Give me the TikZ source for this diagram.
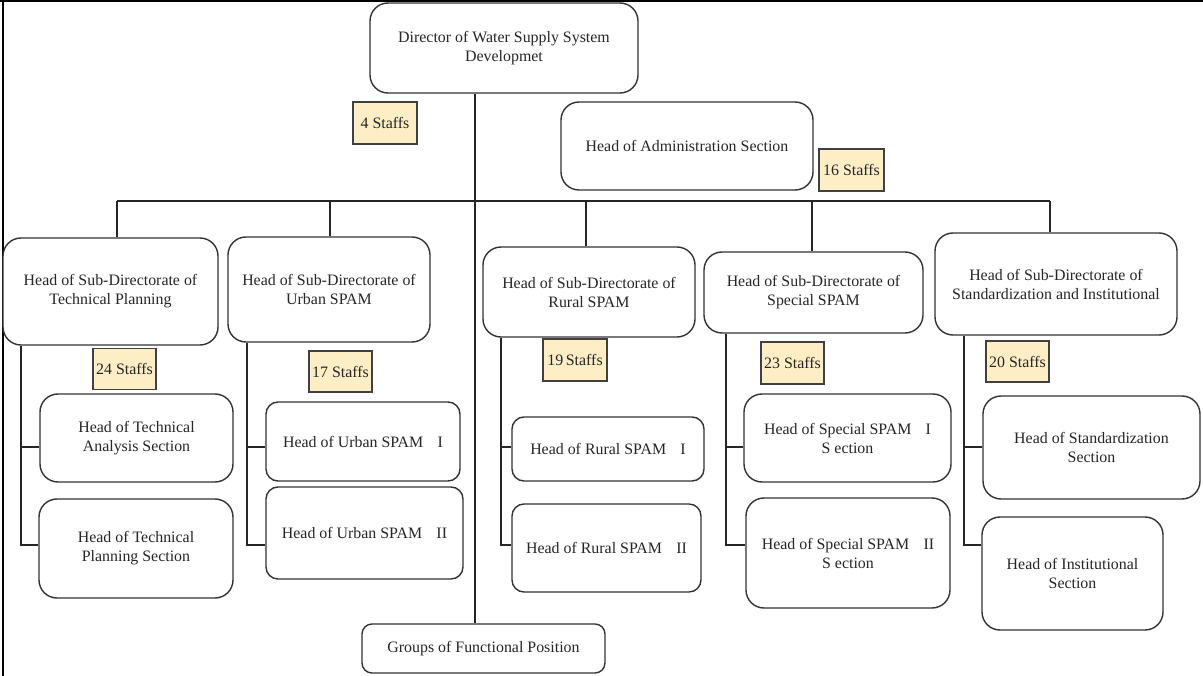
\documentclass[tikz,border=0pt]{standalone}
\usepackage{fontspec}
\setmainfont{Liberation Serif}
\newfontfamily\chartfont{Liberation Serif}
\definecolor{stafffill}{HTML}{FDEEC6}
\begin{document}
\begin{tikzpicture}[x=1pt,y=-1pt,
  every node/.style={font=\chartfont\fontsize{15.9}{19}\selectfont, text=black!85},
  unit/.style={draw=black!80, line width=1.4pt, rounded corners=18pt, align=center, inner sep=0pt, fill=white},
  smallunit/.style={unit, rounded corners=12pt},
  staff/.style={draw=black!75, line width=1.4pt, fill=stafffill, inner sep=0pt, align=center},
  link/.style={draw=black!85, line width=1.3pt},
  frame/.style={draw=black, line width=2.6pt}]
\useasboundingbox (0,0) rectangle (1203,676);

% outer frame edges
\draw[frame] (0,1.2) -- (1203,1.2);
\draw[frame] (3,0) -- (3,676);

% top level
\node[unit, minimum width=268pt, minimum height=90pt] (dir) at (504,48)
  {Director of Water Supply System\\Developmet};
\node[unit, minimum width=252pt, minimum height=88pt] (adm) at (687,146)
  {Head of Administration Section};
\node[staff, minimum width=64pt, minimum height=42pt] (s4) at (385,123) {4 Staffs};
\node[staff, minimum width=65pt, minimum height=42pt] (s16) at (851.5,170) {16 Staffs};

% sub-directorates
\node[unit, minimum width=215pt, minimum height=107pt] (tp) at (110.5,291.5)
  {Head of Sub-Directorate of\\Technical Planning};
\node[unit, minimum width=202pt, minimum height=105pt] (ur) at (329,289.5)
  {Head of Sub-Directorate of\\Urban SPAM};
\node[unit, minimum width=212pt, minimum height=90pt] (ru) at (589,292)
  {Head of Sub-Directorate of\\Rural SPAM};
\node[unit, minimum width=219pt, minimum height=81pt] (sp) at (813.5,292.5)
  {Head of Sub-Directorate of\\Special SPAM};
\node[unit, minimum width=242pt, minimum height=102pt] (st) at (1056,284)
  {Head of Sub-Directorate of\\Standardization and Institutional};

% staff counts of the sub-directorates
\node[staff, minimum width=63pt, minimum height=41pt] (s24) at (124.5,369) {24 Staffs};
\node[staff, minimum width=63pt, minimum height=41pt] (s17) at (340.5,371.5) {17 Staffs};
\node[staff, minimum width=64pt, minimum height=42pt] (s19) at (575,360) {19\,Staffs};
\node[staff, minimum width=63pt, minimum height=42pt] (s23) at (792.5,363) {23 Staffs};
\node[staff, minimum width=63pt, minimum height=41pt] (s20) at (1017.5,361.5) {20 Staffs};

% sections
\node[unit, minimum width=193pt, minimum height=88pt] (tpa) at (136.5,438)
  {Head of Technical\\Analysis Section};
\node[unit, minimum width=194pt, minimum height=99pt] (tpp) at (136,548.5)
  {Head of Technical\\Planning Section};
\node[smallunit, minimum width=194pt, minimum height=79pt] (ur1) at (363,441.5)
  {Head of Urban SPAM\hspace{0.9em}I};
\node[smallunit, minimum width=197pt, minimum height=92pt] (ur2) at (364.5,533)
  {Head of Urban SPAM\hspace{0.9em}II};
\node[smallunit, minimum width=192pt, minimum height=64pt] (ru1) at (608,449)
  {Head of Rural SPAM\hspace{0.9em}I};
\node[smallunit, minimum width=189pt, minimum height=88pt] (ru2) at (606.5,548)
  {Head of Rural SPAM\hspace{0.9em}II};
\node[unit, minimum width=207pt, minimum height=88pt] (sp1) at (847.5,438)
  {Head of Special SPAM\hspace{0.9em}I\\S ection};
\node[unit, minimum width=204pt, minimum height=110pt] (sp2) at (848,553)
  {Head of Special SPAM\hspace{0.9em}II\\S ection};
\node[unit, minimum width=217pt, minimum height=103pt] (sts) at (1091.5,447.5)
  {Head of Standardization\\Section};
\node[unit, minimum width=181pt, minimum height=113pt] (ins) at (1072.5,573.5)
  {Head of Institutional\\Section};

% functional positions
\node[smallunit, rounded corners=10pt, minimum width=243pt, minimum height=49pt] (grp) at (483.5,648.5)
  {Groups of Functional Position};

% trunk, bus and drops
\coordinate (trunk) at (475,0);
\coordinate (busA) at (117,201);
\coordinate (busB) at (330,201);
\coordinate (busC) at (586,201);
\coordinate (busD) at (812,201);
\coordinate (busE) at (1050,201);
\draw[link] (dir.south -| trunk) -- (grp.north -| trunk);
\draw[link] (busA) -- (busE);
\draw[link] (busA) -- (tp.north -| busA);
\draw[link] (busB) -- (ur.north -| busB);
\draw[link] (busC) -- (ru.north -| busC);
\draw[link] (busD) -- (sp.north -| busD);
\draw[link] (busE) -- (st.north -| busE);

% branch rows
\coordinate (rowA) at (0,447);
\coordinate (rowB) at (0,545);
\coordinate (tpx) at (21,0);
\coordinate (urx) at (247,0);
\coordinate (rux) at (501,0);
\coordinate (spx) at (726,0);
\coordinate (stx) at (964,0);

\draw[link] (tp.south -| tpx) -- (tpx |- rowB) -- (tpp.west |- rowB);
\draw[link] (tpx |- rowA) -- (tpa.west |- rowA);
\draw[link] (ur.south -| urx) -- (urx |- rowB) -- (ur2.west |- rowB);
\draw[link] (urx |- rowA) -- (ur1.west |- rowA);
\draw[link] (ru.south -| rux) -- (rux |- rowB) -- (ru2.west |- rowB);
\draw[link] (rux |- rowA) -- (ru1.west |- rowA);
\draw[link] (sp.south -| spx) -- (spx |- rowB) -- (sp2.west |- rowB);
\draw[link] (spx |- rowA) -- (sp1.west |- rowA);
\draw[link] (st.south -| stx) -- (stx |- rowB) -- (ins.west |- rowB);
\draw[link] (stx |- rowA) -- (sts.west |- rowA);
\end{tikzpicture}
\end{document}
